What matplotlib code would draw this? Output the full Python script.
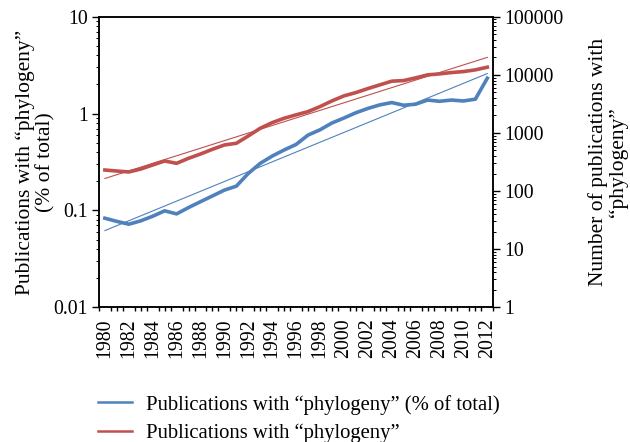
import numpy as np
import matplotlib
matplotlib.use("Agg")
import matplotlib.pyplot as plt
from matplotlib.lines import Line2D
from matplotlib.ticker import LogLocator, NullFormatter, FixedLocator

plt.rcParams['font.family'] = ['Liberation Serif', 'DejaVu Serif']

years = np.arange(1980, 2013)

# share of all publications mentioning "phylogeny" (%)
pct_total = [0.083, 0.077, 0.072, 0.078, 0.087, 0.099, 0.092, 0.107, 0.123, 0.141,
             0.162, 0.178, 0.241, 0.306, 0.364, 0.421, 0.48, 0.60, 0.68, 0.80,
             0.90, 1.02, 1.13, 1.23, 1.30, 1.22, 1.25, 1.38, 1.34, 1.38,
             1.35, 1.41, 2.32]

# number of publications mentioning "phylogeny"
n_pubs = [230, 221, 213, 239, 281, 329, 300, 366, 434, 523,
          621, 664, 888, 1205, 1506, 1792, 2050, 2333, 2843, 3563,
          4347, 4956, 5807, 6723, 7786, 7980, 8870, 10000, 10400, 10960,
          11400, 12200, 13560]

blue = "#4F81BD"
red = "#C0504D"

def exp_trend(x, y):
    # exponential trendline, like the spreadsheet one
    b, a = np.polyfit(x, np.log(y), 1)
    return np.exp(a + b * x)

fig = plt.figure(figsize=(6.3, 4.42), dpi=100)
ax = fig.add_axes([0.157, 0.305, 0.626, 0.657])
ax2 = ax.twinx()

ax.plot(years, pct_total, color=blue, lw=2.6, solid_joinstyle='round')
ax.plot(years, exp_trend(years, pct_total), color=blue, lw=0.8)
ax2.plot(years, n_pubs, color=red, lw=2.6, solid_joinstyle='round')
ax2.plot(years, exp_trend(years, n_pubs), color=red, lw=0.8)

ax.set_yscale('log')
ax.set_ylim(0.01, 10)
ax.set_yticks([0.01, 0.1, 1, 10])
ax.set_yticklabels(["0.01", "0.1", "1", "10"])
ax2.set_yscale('log')
ax2.set_ylim(1, 100000)
ax2.set_yticks([1, 10, 100, 1000, 10000, 100000])
ax2.set_yticklabels(["1", "10", "100", "1000", "10000", "100000"])
for a in (ax, ax2):
    a.yaxis.set_minor_locator(LogLocator(base=10, subs=np.arange(2, 10)))
    a.yaxis.set_minor_formatter(NullFormatter())
    a.tick_params(axis='y', which='major', direction='out', length=5, width=1, labelsize=14.3, pad=3)
    a.tick_params(axis='y', which='minor', direction='out', length=2.5, width=0.7)

ax.set_xlim(1979.5, 2012.5)
ax.set_xticks(years[::2])
ax.set_xticklabels([str(y) for y in years[::2]], rotation=90)
ax.xaxis.set_minor_locator(FixedLocator(np.arange(1979.5, 2013, 0.5)))
ax.tick_params(axis='x', which='major', length=0, labelsize=14.3, pad=8)
ax.tick_params(axis='x', which='minor', direction='out', length=3, width=1)

for a in (ax, ax2):
    for s in a.spines.values():
        s.set_linewidth(1.1)

ax.set_ylabel("Publications with \u201cphylogeny\u201d\n(% of total)", fontsize=15.5, linespacing=1.05)
ax.yaxis.set_label_coords(-0.11, 0.5)
ax2.set_ylabel("Number of publications with\n\u201cphylogeny\u201d", fontsize=15.5, linespacing=1.05)
ax2.yaxis.set_label_coords(1.24, 0.5)

handles = [Line2D([], [], color=blue, lw=1.8),
           Line2D([], [], color=red, lw=1.8)]
fig.legend(handles, ["Publications with \u201cphylogeny\u201d (% of total)",
                     "Publications with \u201cphylogeny\u201d"],
           loc='upper left', bbox_to_anchor=(0.156, 0.107), frameon=False,
           fontsize=14.9, handlelength=1.65, handletextpad=0.65, labelspacing=0.45,
           borderaxespad=0, borderpad=0)

fig.savefig("out.png", dpi=100)
